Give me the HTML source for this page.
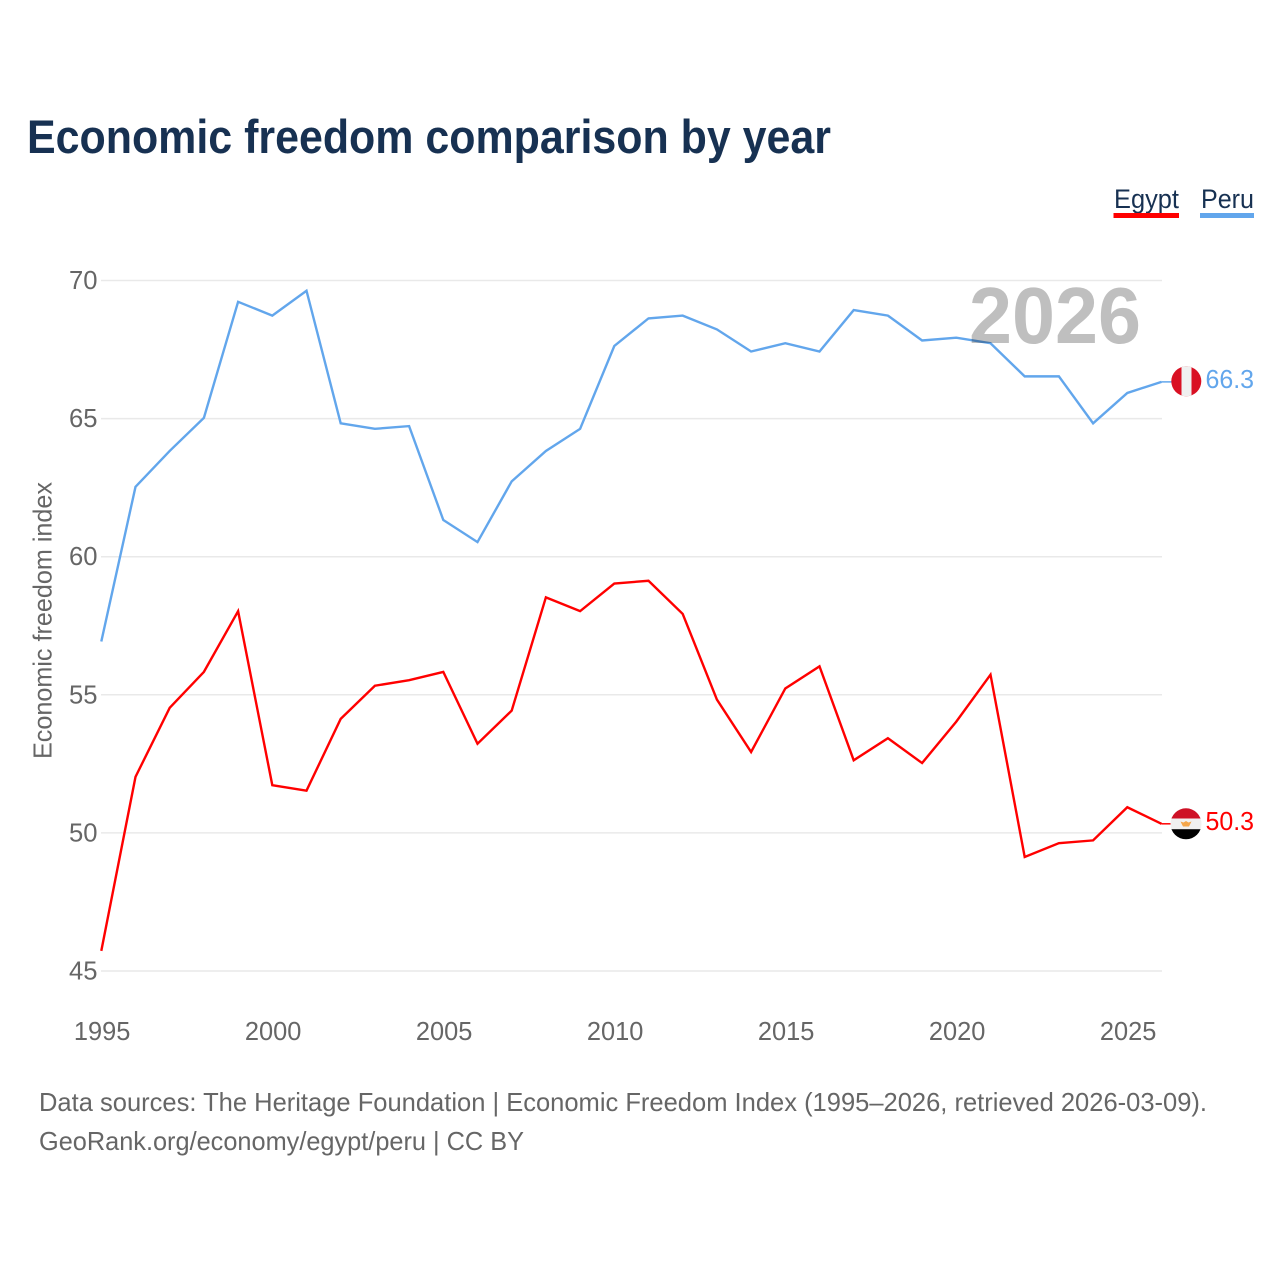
<!DOCTYPE html>
<html lang="en">
<head>
<meta charset="utf-8">
<title>Economic freedom comparison by year</title>
<style>
html,body{margin:0;padding:0;background:#fff;width:1280px;height:1280px;overflow:hidden}
svg{display:block}
text{font-family:"Liberation Sans",sans-serif}
</style>
</head>
<body>
<svg id="chart" width="1280" height="1280" viewBox="0 0 1280 1280" xmlns="http://www.w3.org/2000/svg">
  <defs>
    <clipPath id="clip-peru"><circle cx="1186.300" cy="381.300" r="15"/></clipPath>
    <clipPath id="clip-egypt"><circle cx="1186" cy="823.800" r="15.500"/></clipPath>
  </defs>
  <text x="27" y="153" font-size="47" font-weight="700" fill="#173152" textLength="804" lengthAdjust="spacingAndGlyphs">Economic freedom comparison by year</text>

  <g>
    <g>
      <text x="1114" y="208" font-size="27" fill="#173152" textLength="65" lengthAdjust="spacingAndGlyphs">Egypt</text>
      <rect x="1113.500" y="213" width="65.500" height="5" fill="#ff0000"/>
    </g>
    <g>
      <text x="1201" y="208" font-size="27" fill="#173152" textLength="53" lengthAdjust="spacingAndGlyphs">Peru</text>
      <rect x="1200" y="213" width="54" height="5" fill="#62a6ec"/>
    </g>
  </g>

  <g id="grid"></g>
  <g id="y-ticks"></g>
  <g id="x-ticks"></g>

  <text transform="translate(51.500 759) rotate(-90)" font-size="26" fill="#666666" textLength="277" lengthAdjust="spacingAndGlyphs">Economic freedom index</text>

  <g id="series" transform="translate(0 -0.800)"></g>

  <text x="1141" y="343" text-anchor="end" font-size="80" font-weight="700" fill="#000000" fill-opacity="0.25" textLength="172" lengthAdjust="spacingAndGlyphs">2026</text>

  <g clip-path="url(#clip-peru)">
    <rect x="1170" y="365" width="33" height="33" fill="#d91023"/>
    <rect x="1181.500" y="365" width="10" height="33" fill="#f0f0f0"/>
  </g>
  <g clip-path="url(#clip-egypt)">
    <rect x="1170" y="807" width="32" height="11.500" fill="#ce1126"/>
    <rect x="1170" y="818.500" width="32" height="10.700" fill="#f0f0f0"/>
    <rect x="1170" y="829.200" width="32" height="11" fill="#000000"/>
    <path d="M1180.500 821.500l3 1 2.500-1.500 2.500 1.500 3-1-2.500 5h-6z" fill="#f4a64a"/>
  </g>
  <text id="end-peru" x="1205.500" y="388" font-size="26" fill="#62a6ec" textLength="48.500" lengthAdjust="spacingAndGlyphs"></text>
  <text id="end-egypt" x="1205.500" y="830" font-size="26" fill="#ff0000" textLength="48.500" lengthAdjust="spacingAndGlyphs"></text>

  <text x="39" y="1111" font-size="26" fill="#666666" textLength="1168" lengthAdjust="spacingAndGlyphs">Data sources: The Heritage Foundation | Economic Freedom Index (1995–2026, retrieved 2026-03-09).</text>
  <text x="39" y="1150" font-size="26" fill="#666666" textLength="485" lengthAdjust="spacingAndGlyphs">GeoRank.org/economy/egypt/peru | CC BY</text>
</svg>
<script>
const years = [1995,1996,1997,1998,1999,2000,2001,2002,2003,2004,2005,2006,2007,2008,2009,2010,2011,2012,2013,2014,2015,2016,2017,2018,2019,2020,2021,2022,2023,2024,2025,2026];
const egypt = [45.7,52.0,54.5,55.8,58.0,51.7,51.5,54.1,55.3,55.5,55.8,53.2,54.4,58.5,58.0,59.0,59.1,57.9,54.8,52.9,55.2,56.0,52.6,53.4,52.5,54.0,55.7,49.1,49.6,49.7,50.9,50.3];
const peru = [56.9,62.5,63.8,65.0,69.2,68.7,69.6,64.8,64.6,64.7,61.3,60.5,62.7,63.8,64.6,67.6,68.6,68.7,68.2,67.4,67.7,67.4,68.9,68.7,67.8,67.9,67.7,66.5,66.5,64.8,65.9,66.3];
const yTickLabels = [45,50,55,60,65,70];
const xTickLabels = [1995,2000,2005,2010,2015,2020,2025];

const NS = 'http://www.w3.org/2000/svg';
function xScale(year){ return 101.3 + (year - 1995) * 34.2; }
function yScale(value){ return 971 - (value - 45) * (971 - 280.5) / (70 - 45); }
function make(tag, attrs, parent){
  const el = document.createElementNS(NS, tag);
  for (const k in attrs) el.setAttribute(k, attrs[k]);
  parent.appendChild(el);
  return el;
}
const grid = document.getElementById('grid');
const yTicks = document.getElementById('y-ticks');
const xTicks = document.getElementById('x-ticks');
const seriesGroup = document.getElementById('series');

yTickLabels.forEach(function(v){
  const line = make('line', {x1:101, x2:1162, y1:yScale(v), y2:yScale(v), stroke:'#e9e9e9', 'stroke-width':1.5}, grid);
  
  
  const t = make('text', {x:97.5, y:yScale(v) + 8.5, 'text-anchor':'end', 'font-size':26, fill:'#666666', textLength:28.5, lengthAdjust:'spacingAndGlyphs'}, yTicks);
  
  
  t.textContent = v;
});

xTickLabels.forEach(function(y){
  const t = make('text', {x:xScale(y) + 0.8, y:1040, 'text-anchor':'middle', 'font-size':26, fill:'#666666', textLength:56.5, lengthAdjust:'spacingAndGlyphs'}, xTicks);
  
  
  t.textContent = y;
});

function drawSeries(values, color, name){
  const d = values.map(function(v, i){
    return (i ? 'L' : 'M') + xScale(years[i]).toFixed(2) + ' ' + yScale(v).toFixed(2);
  }).join('');
  const path = make('path', {d:d, fill:'none', stroke:color, 'stroke-width':2.4, 'stroke-linejoin':'miter'}, seriesGroup);
  
  
  const lastX = xScale(years[years.length - 1]);
  const lastY = yScale(values[values.length - 1]);
  const connector = make('line', {x1:lastX, x2:lastX + 10, y1:lastY, y2:lastY, stroke:color, 'stroke-width':1.5}, seriesGroup);
  
  
}
drawSeries(peru, '#62a6ec', 'series-line-peru');
drawSeries(egypt, '#ff0000', 'series-line-egypt');

document.getElementById('end-peru').textContent = peru[peru.length - 1].toFixed(1);
document.getElementById('end-egypt').textContent = egypt[egypt.length - 1].toFixed(1);
</script>
</body>
</html>
